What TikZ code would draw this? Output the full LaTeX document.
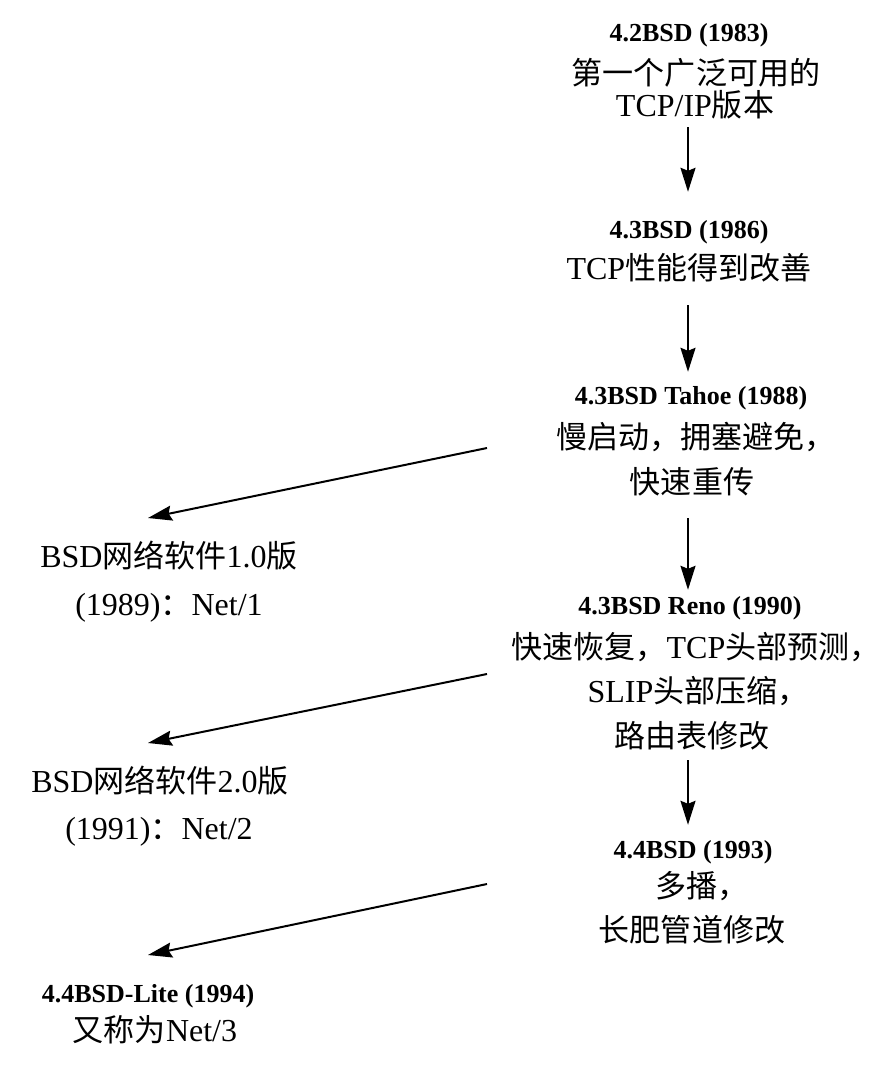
\documentclass[tikz,border=0pt]{standalone}
\usepackage{fontspec}
\setmainfont{Liberation Serif}
\newfontfamily\cjk[Scale=0.97]{Noto Sans CJK SC}
\usetikzlibrary{arrows.meta}
\newcommand\zh[1]{{\cjk #1}}
\tikzset{
  txt/.style={inner sep=0pt, anchor=base, text height=24pt, text depth=6pt, font=\fontsize{32}{38}\selectfont},
  hd/.style={inner sep=0pt, anchor=base, text height=18pt, text depth=6pt, font=\fontsize{26}{31}\selectfont\bfseries},
  arr/.style={line width=2pt, -{Stealth[length=24pt,width=15pt,inset=3pt]}}
}
\begin{document}
\begin{tikzpicture}[x=1pt,y=-1pt]
\useasboundingbox[fill=white] (0,0) rectangle (886,1076);
% right column
\node[hd]  (b1a) at (689,41)  {4.2BSD (1983)};
\node[txt] (b1b) at (696,84)  {\zh{第一个广泛可用的}};
\node[txt] (b1c) at (695,116) {TCP/IP\zh{版本}};
\node[hd]  (b2a) at (689,238) {4.3BSD (1986)};
\node[txt] (b2b) at (689,279) {TCP\zh{性能得到改善}};
\node[hd]  (b3a) at (691,404) {4.3BSD Tahoe (1988)};
\node[txt] (b3b) at (696,448) {\zh{慢启动，拥塞避免，}};
\node[txt] (b3c) at (692,493) {\zh{快速重传}};
\node[hd]  (b4a) at (690,614) {4.3BSD Reno (1990)};
\node[txt] (b4b) at (696,658) {\zh{快速恢复，}TCP\zh{头部预测，}};
\node[txt] (b4c) at (698,702) {SLIP\zh{头部压缩，}};
\node[txt] (b4d) at (692,747) {\zh{路由表修改}};
\node[hd]  (b5a) at (693,858) {4.4BSD (1993)};
\node[txt] (b5b) at (702,897) {\zh{多播，}};
\node[txt] (b5c) at (692,941) {\zh{长肥管道修改}};
% left column
\node[txt] (l1a) at (169,567)  {BSD\zh{网络软件}1.0\zh{版}};
\node[txt] (l1b) at (169,615)  {(1989)\zh{：}Net/1};
\node[txt] (l2a) at (160,792)  {BSD\zh{网络软件}2.0\zh{版}};
\node[txt] (l2b) at (159,839)  {(1991)\zh{：}Net/2};
\node[hd]  (l3a) at (148,1002) {4.4BSD-Lite (1994)};
\node[txt] (l3b) at (155,1041) {\zh{又称为}Net/3};
% vertical arrows
\draw[arr] ([yshift=-5pt]b1c.south -| 688,0)  -- ([yshift=28pt]b2a.north -| 688,0);
\draw[arr] ([yshift=-20pt]b2b.south -| 688,0) -- ([yshift=14pt]b3a.north -| 688,0);
\draw[arr] ([yshift=-19pt]b3c.south -| 688,0) -- ([yshift=6pt]b4a.north -| 688,0);
\draw[arr] ([yshift=-7pt]b4d.south -| 688,0)  -- ([yshift=15pt]b5a.north -| 688,0);
% diagonal arrows
\coordinate (d1s) at (487,448); \coordinate (d1e) at (148,518);
\coordinate (d2s) at (487,674); \coordinate (d2e) at (148,743);
\coordinate (d3s) at (487,884); \coordinate (d3e) at (148,955);
\draw[arr] (d1s) -- (d1e);
\draw[arr] (d2s) -- (d2e);
\draw[arr] (d3s) -- (d3e);
\end{tikzpicture}
\end{document}
